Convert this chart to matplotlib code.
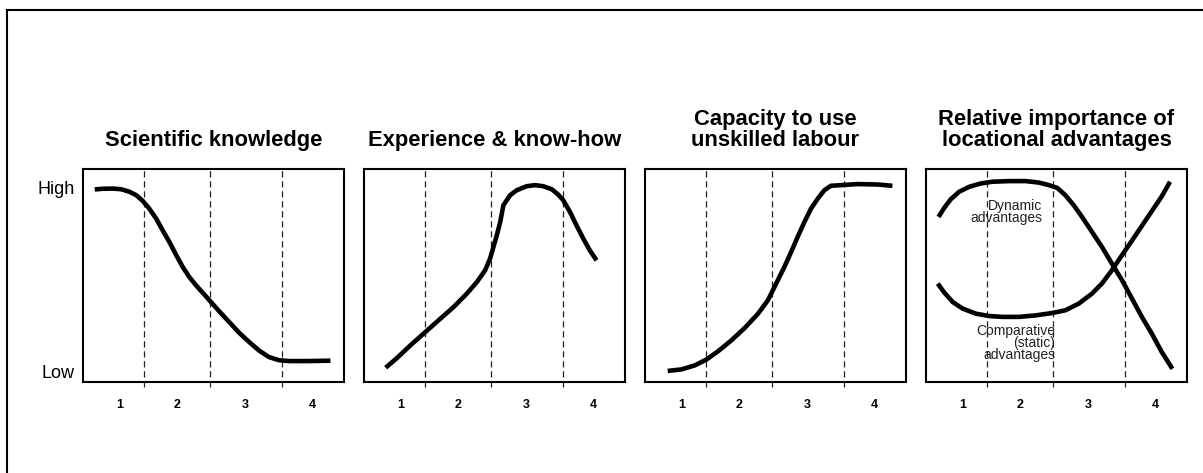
import matplotlib
matplotlib.use("Agg")
import matplotlib.pyplot as plt
from matplotlib.lines import Line2D

plt.rcParams['font.family'] = ['Liberation Sans', 'DejaVu Sans']

# stage boundaries (fraction of box width) and stage label positions
boundaries = [0.235, 0.487, 0.761]
stage_pos = [0.142, 0.36, 0.62, 0.88]
stage_labels = ['1', '2', '3', '4']

titles = ['Scientific knowledge', 'Experience & know-how',
          'Capacity to use\nunskilled labour',
          'Relative importance of\nlocational advantages']

# curves (x = fraction of width, y = 0 low .. 1 high)
sci_x = [0.045, 0.076, 0.115, 0.146, 0.178, 0.204, 0.229, 0.254, 0.280, 0.305,
         0.331, 0.356, 0.382, 0.407, 0.433, 0.458, 0.490, 0.522, 0.560, 0.598,
         0.636, 0.674, 0.712, 0.751, 0.789, 0.865, 0.948]
sci_y = [0.902, 0.905, 0.906, 0.903, 0.891, 0.875, 0.848, 0.812, 0.766, 0.711,
         0.656, 0.597, 0.539, 0.492, 0.453, 0.419, 0.375, 0.331, 0.281, 0.231,
         0.188, 0.148, 0.117, 0.102, 0.098, 0.098, 0.100]

exp_x = [0.083, 0.127, 0.178, 0.235, 0.293, 0.344, 0.394, 0.433, 0.464, 0.483,
         0.496, 0.509, 0.522, 0.534, 0.560, 0.585, 0.623, 0.655, 0.687, 0.719,
         0.744, 0.763, 0.789, 0.814, 0.840, 0.865, 0.891]
exp_y = [0.067, 0.113, 0.172, 0.234, 0.297, 0.352, 0.414, 0.469, 0.523, 0.578,
         0.633, 0.688, 0.750, 0.828, 0.875, 0.898, 0.917, 0.922, 0.917, 0.903,
         0.878, 0.852, 0.797, 0.734, 0.672, 0.617, 0.570]

cap_x = [0.087, 0.140, 0.191, 0.235, 0.280, 0.331, 0.382, 0.433, 0.471, 0.490,
         0.509, 0.534, 0.560, 0.585, 0.611, 0.636, 0.662, 0.687, 0.712, 0.751,
         0.814, 0.891, 0.948]
cap_y = [0.052, 0.059, 0.078, 0.105, 0.144, 0.195, 0.253, 0.320, 0.383, 0.430,
         0.477, 0.539, 0.609, 0.680, 0.750, 0.812, 0.859, 0.898, 0.919, 0.922,
         0.927, 0.925, 0.919]

dyn_x = [0.048, 0.070, 0.095, 0.127, 0.165, 0.210, 0.254, 0.318, 0.382, 0.433,
         0.471, 0.503, 0.534, 0.566, 0.598, 0.636, 0.674, 0.712, 0.751, 0.789,
         0.827, 0.865, 0.903, 0.944]
dyn_y = [0.773, 0.816, 0.856, 0.891, 0.914, 0.930, 0.938, 0.941, 0.941, 0.934,
         0.922, 0.909, 0.875, 0.828, 0.773, 0.703, 0.633, 0.555, 0.477, 0.391,
         0.305, 0.227, 0.141, 0.062]

comp_x = [0.045, 0.070, 0.102, 0.140, 0.191, 0.242, 0.293, 0.356, 0.420, 0.483,
          0.534, 0.585, 0.636, 0.674, 0.712, 0.751, 0.789, 0.827, 0.865, 0.903,
          0.935]
comp_y = [0.461, 0.419, 0.375, 0.344, 0.320, 0.309, 0.305, 0.305, 0.312, 0.323,
          0.336, 0.367, 0.414, 0.461, 0.523, 0.594, 0.662, 0.731, 0.800, 0.869,
          0.938]

W, H = 1203, 473
fig = plt.figure(figsize=(W / 100, H / 100), dpi=100)

# outer frame (top and left edges)
fig.add_artist(Line2D([7 / W, 1], [1 - 10 / H, 1 - 10 / H], color='black', lw=1.5))
fig.add_artist(Line2D([7 / W, 7 / W], [0, 1 - 10 / H], color='black', lw=1.5))

lefts = [83, 364, 645, 926]
curves = [[(sci_x, sci_y)], [(exp_x, exp_y)], [(cap_x, cap_y)],
          [(dyn_x, dyn_y), (comp_x, comp_y)]]

for i in range(4):
    ax = fig.add_axes([lefts[i] / W, 1 - 382 / H, 261 / W, 213.5 / H])
    ax.set_xlim(0, 1)
    ax.set_ylim(0, 1)
    for s in ax.spines.values():
        s.set_linewidth(1.5)
    for b in boundaries:
        ax.plot([b, b], [-0.023, 1], color='#222222', lw=0.9, ls=(0, (5, 3)),
                clip_on=False)
    for cx, cy in curves[i]:
        ax.plot(cx, cy, color='black', lw=3.3, solid_joinstyle='round',
                solid_capstyle='butt')
    ax.set_xticks(stage_pos)
    ax.set_xticklabels(stage_labels, fontsize=9, fontweight='bold')
    ax.tick_params(axis='x', length=0, pad=12)
    if i == 0:
        ax.set_yticks([0.913, 0.05])
        ax.set_yticklabels(['High', 'Low'], fontsize=13)
        ax.tick_params(axis='y', length=0, pad=6)
    else:
        ax.set_yticks([])
    ax.set_title(titles[i], fontsize=15.8, fontweight='bold', pad=16,
                 linespacing=1.0)
    if i == 3:
        ax.text(0.445, 0.855, 'Dynamic\nadvantages', ha='right', va='top',
                fontsize=10, multialignment='right', linespacing=0.8,
                color='#222222')
        ax.text(0.496, 0.27, 'Comparative\n(static)\nadvantages', ha='right',
                va='top', fontsize=10, multialignment='right', linespacing=0.8,
                color='#222222')

fig.savefig('out.png', dpi=100)
